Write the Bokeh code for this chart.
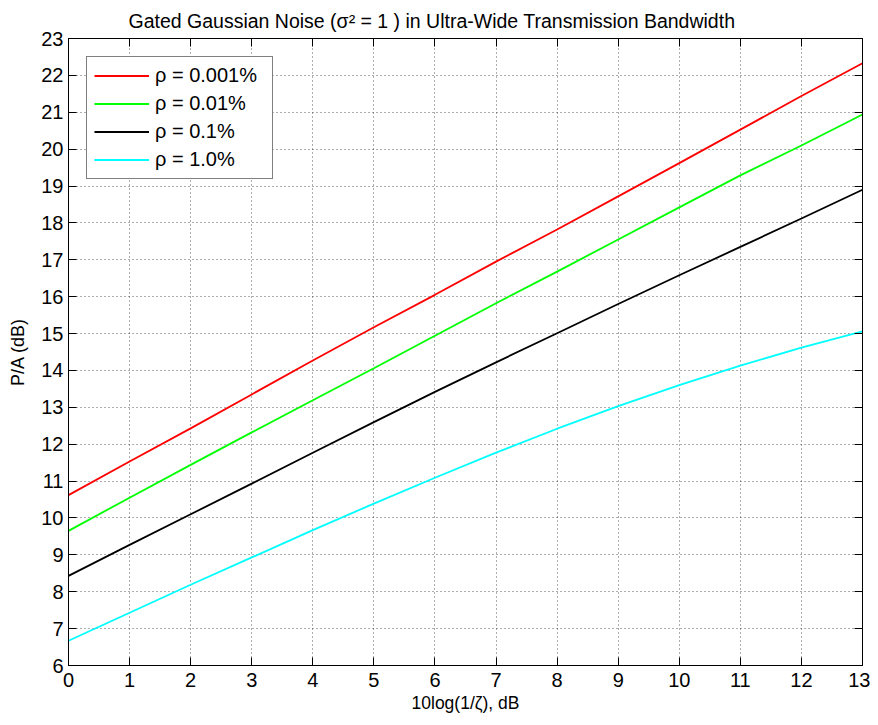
from bokeh.plotting import figure
from bokeh.models import Range1d, LinearAxis, FixedTicker, Legend, LegendItem, CustomJSTickFormatter
from bokeh.embed import file_html
from bokeh.resources import INLINE

# ---- data ----
x_db = [0, 1, 2, 3, 4, 5, 6, 7, 8, 9, 10, 11, 12, 13]
rho_0001 = [10.62, 11.53, 12.43, 13.35, 14.27, 15.17, 16.05, 16.95, 17.82, 18.72, 19.62, 20.53, 21.44, 22.33]
rho_001 = [9.65, 10.55, 11.44, 12.32, 13.19, 14.06, 14.94, 15.82, 16.68, 17.55, 18.42, 19.29, 20.1, 20.94]
rho_01 = [8.43, 9.27, 10.1, 10.93, 11.77, 12.6, 13.42, 14.22, 15.01, 15.8, 16.58, 17.35, 18.12, 18.9]
rho_1 = [6.67, 7.43, 8.19, 8.93, 9.67, 10.39, 11.09, 11.77, 12.42, 13.03, 13.6, 14.13, 14.62, 15.06]
series_labels = ["ρ = 0.001%", "ρ = 0.01%", "ρ = 0.1%", "ρ = 1.0%"]
series_colors = ["#FF0000", "#00FF00", "#000000", "#00FFFF"]
x_ticks = list(range(0, 14))
y_ticks = list(range(6, 24))

FONT = "Liberation Sans"

p = figure(
    frame_width=794, frame_height=627,
    min_border_left=68, min_border_right=8, min_border_top=38, min_border_bottom=52,
    x_range=Range1d(0, 13), y_range=Range1d(6, 23),
    output_backend="svg", toolbar_location=None,
    title="Gated Gaussian Noise (σ² = 1 ) in Ultra-Wide Transmission Bandwidth",
)
p.background_fill_color = "white"
p.border_fill_color = "white"
p.outline_line_color = "black"
p.outline_line_width = 1

p.title.align = "left"
p.title.offset = 60
p.title.text_font = FONT
p.title.text_font_size = "19.5px"
p.title.text_font_style = "normal"
p.title.text_color = "black"
p.title.standoff = 13

for ax, ticks in ((p.xaxis[0], x_ticks), (p.yaxis[0], y_ticks)):
    ax.ticker = FixedTicker(ticks=ticks)
    ax.major_tick_in = 8
    ax.major_tick_out = 0
    ax.minor_tick_in = 0
    ax.minor_tick_out = 0
    ax.major_label_text_font = FONT
    ax.major_label_text_font_size = "20px"
    ax.major_label_text_color = "black"
    ax.axis_label_text_font = FONT
    ax.axis_label_text_font_style = "normal"
    ax.axis_label_text_color = "black"
    ax.axis_line_color = "black"
    ax.major_tick_line_color = "black"

p.xaxis.axis_label = "10log(1/ζ), dB"
p.yaxis.axis_label = "P/A (dB)"
p.xaxis.axis_label_text_font_size = "17.5px"
p.yaxis.axis_label_text_font_size = "18px"
p.xaxis.major_label_standoff = 7
p.yaxis.major_label_standoff = 5
p.xaxis.axis_label_standoff = 3
p.yaxis.axis_label_standoff = 10

# mirrored ticks on top and right (box style), no labels
for loc, ticks in (("above", x_ticks), ("right", y_ticks)):
    ax = LinearAxis(ticker=FixedTicker(ticks=ticks),
                    formatter=CustomJSTickFormatter(code="return ''"))
    ax.major_tick_in = 8
    ax.major_tick_out = 0
    ax.minor_tick_in = 0
    ax.minor_tick_out = 0
    ax.major_label_standoff = 0
    ax.axis_line_color = "black"
    ax.major_tick_line_color = "black"
    p.add_layout(ax, loc)

p.xgrid.ticker = FixedTicker(ticks=x_ticks)
p.ygrid.ticker = FixedTicker(ticks=y_ticks)
p.grid.grid_line_color = "#333333"
p.grid.grid_line_dash = "1 3"
p.grid.grid_line_alpha = 0.8
p.grid.grid_line_width = 1

items = []
for ys, lab, col in zip([rho_0001, rho_001, rho_01, rho_1], series_labels, series_colors):
    r = p.line(x_db, ys, line_color=col, line_width=1.8)
    items.append(LegendItem(label=lab, renderers=[r]))

legend = Legend(items=items, location=(18, 486))
legend.label_text_font = FONT
legend.label_text_font_size = "20px"
legend.label_text_color = "black"
legend.glyph_width = 55
legend.glyph_height = 23
legend.label_standoff = 6
legend.label_height = 23
legend.label_width = 110
legend.spacing = 5
legend.padding = 7
legend.margin = 0
legend.border_line_color = "black"
legend.border_line_width = 1
legend.background_fill_color = "white"
legend.background_fill_alpha = 1
p.add_layout(legend, "center")

open("out.html", "w").write(file_html(p, INLINE))
